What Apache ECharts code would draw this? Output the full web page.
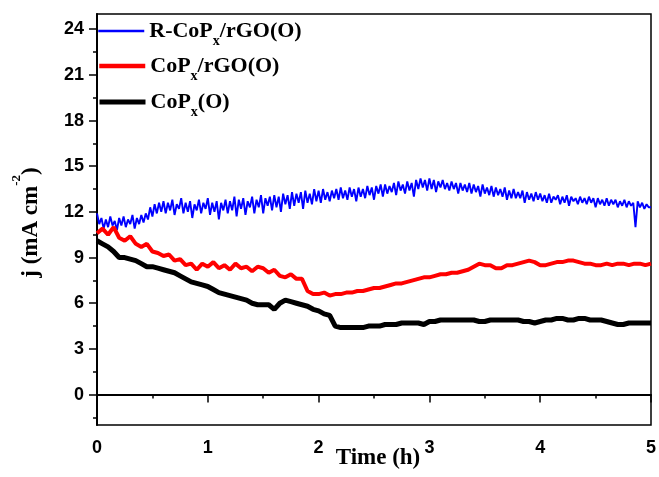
<!DOCTYPE html>
<html>
<head>
<meta charset="utf-8">
<script src="https://cdn.jsdelivr.net/npm/echarts@6/dist/echarts.min.js"></script>
<style>html,body{margin:0;padding:0;background:#fff;}#c{width:659px;height:477px;}</style>
</head>
<body>
<div id="c"></div>
<script>
// Series names
const seriesNames = ['R-CoPx/rGO(O)', 'CoPx/rGO(O)', 'CoPx(O)'];
// Sampling steps (h)
const blueStep = 0.02;
const redStep = 0.05;
const blackStep = 0.05;
// R-CoPx/rGO(O), j (mA cm-2), every 0.02 h from 0 to 5 h
const blueJ = [
  11.9, 11.2, 11.6, 10.9, 11.5, 11.0, 11.7, 11.1, 11.4, 10.8,
  11.6, 11.1, 11.7, 11.0, 11.5, 11.2, 11.8, 10.9, 11.6, 11.2,
  11.8, 11.3, 11.9, 11.5, 12.3, 11.7, 12.5, 11.9, 12.6, 12.0,
  12.7, 11.9, 12.6, 12.1, 12.8, 11.8, 12.5, 12.2, 12.9, 11.9,
  12.6, 12.0, 12.7, 11.6, 12.5, 12.1, 12.8, 11.9, 12.6, 12.2,
  12.9, 11.8, 12.6, 12.0, 12.7, 11.5, 12.6, 12.1, 12.8, 11.9,
  12.7, 12.1, 13.0, 11.7, 12.8, 12.2, 12.9, 11.8, 12.7, 12.3,
  13.0, 11.9, 12.8, 12.3, 13.1, 11.9, 12.9, 12.4, 13.0, 12.1,
  13.1, 12.3, 13.0, 12.0, 13.2, 12.5, 13.1, 12.2, 13.3, 12.4,
  13.2, 12.6, 13.3, 12.2, 13.4, 12.6, 13.2, 12.5, 13.5, 12.7,
  13.4, 12.6, 13.5, 12.8, 13.3, 12.7, 13.4, 12.9, 13.5, 12.8,
  13.6, 12.9, 13.4, 12.8, 13.6, 13.0, 13.5, 12.7, 13.6, 13.0,
  13.5, 12.9, 13.7, 13.1, 13.6, 12.8, 13.7, 13.2, 13.8, 13.0,
  13.8, 13.2, 13.7, 13.3, 13.9, 13.1, 14.0, 13.4, 13.8, 13.2,
  14.0, 13.4, 13.9, 13.0, 14.1, 13.5, 14.2, 13.6, 14.1, 13.4,
  14.2, 13.5, 14.1, 13.3, 14.0, 13.6, 14.1, 13.5, 13.9, 13.4,
  14.0, 13.5, 13.9, 13.2, 13.9, 13.4, 13.8, 13.3, 13.9, 13.2,
  13.8, 13.3, 13.7, 13.0, 13.8, 13.2, 13.6, 13.1, 13.7, 13.0,
  13.6, 13.1, 13.5, 13.0, 13.6, 12.8, 13.4, 12.9, 13.5, 12.9,
  13.3, 12.9, 13.4, 12.6, 13.3, 12.8, 13.2, 12.7, 13.3, 12.8,
  13.2, 12.7, 13.1, 12.6, 13.2, 12.6, 13.0, 12.8, 13.1, 12.5,
  13.0, 12.6, 13.1, 12.4, 13.0, 12.7, 12.9, 12.5, 13.0, 12.6,
  12.9, 12.5, 13.0, 12.6, 12.9, 12.3, 12.9, 12.5, 12.8, 12.4,
  12.9, 12.4, 12.8, 12.5, 12.8, 12.3, 12.7, 12.4, 12.8, 12.3,
  12.7, 12.4, 12.6, 11.0, 12.7, 12.3, 12.6, 12.2, 12.5, 12.3,
  12.3
];
// CoPx/rGO(O), every 0.05 h
const redJ = [
  10.6, 10.9, 10.5, 11.0, 10.3, 10.1, 10.4, 9.9, 9.7, 9.9,
  9.4, 9.3, 9.1, 9.2, 8.8, 8.9, 8.5, 8.6, 8.2, 8.6,
  8.4, 8.7, 8.3, 8.5, 8.2, 8.6, 8.3, 8.4, 8.1, 8.4,
  8.3, 8.0, 8.2, 7.8, 7.7, 7.9, 7.6, 7.6, 6.8, 6.6,
  6.6, 6.7, 6.5, 6.6, 6.6, 6.7, 6.7, 6.8, 6.8, 6.9,
  7.0, 7.0, 7.1, 7.2, 7.3, 7.3, 7.4, 7.5, 7.6, 7.7,
  7.7, 7.8, 7.9, 7.9, 8.0, 8.0, 8.1, 8.2, 8.4, 8.6,
  8.5, 8.5, 8.3, 8.3, 8.5, 8.5, 8.6, 8.7, 8.8, 8.7,
  8.5, 8.5, 8.6, 8.7, 8.7, 8.8, 8.8, 8.7, 8.6, 8.6,
  8.5, 8.5, 8.6, 8.5, 8.6, 8.6, 8.5, 8.6, 8.6, 8.5,
  8.6
];
// CoPx(O), every 0.05 h
const blackJ = [
  10.1, 9.9, 9.7, 9.4, 9.0, 9.0, 8.9, 8.8, 8.6, 8.4,
  8.4, 8.3, 8.2, 8.1, 8.0, 7.8, 7.6, 7.4, 7.3, 7.2,
  7.1, 6.9, 6.7, 6.6, 6.5, 6.4, 6.3, 6.2, 6.0, 5.9,
  5.9, 5.9, 5.6, 6.0, 6.2, 6.1, 6.0, 5.9, 5.8, 5.6,
  5.5, 5.3, 5.2, 4.5, 4.4, 4.4, 4.4, 4.4, 4.4, 4.5,
  4.5, 4.5, 4.6, 4.6, 4.6, 4.7, 4.7, 4.7, 4.7, 4.6,
  4.8, 4.8, 4.9, 4.9, 4.9, 4.9, 4.9, 4.9, 4.9, 4.8,
  4.8, 4.9, 4.9, 4.9, 4.9, 4.9, 4.9, 4.8, 4.8, 4.7,
  4.8, 4.9, 4.9, 5.0, 5.0, 4.9, 4.9, 5.0, 5.0, 4.9,
  4.9, 4.9, 4.8, 4.7, 4.6, 4.6, 4.7, 4.7, 4.7, 4.7,
  4.7
];
// Axis ticks
const yMajorTicks = [0, 3, 6, 9, 12, 15, 18, 21, 24];
const yMinorTicks = [-1.5, 1.5, 4.5, 7.5, 10.5, 13.5, 16.5, 19.5, 22.5];

const toPairs = (arr, step) => arr.map((v, i) => [Math.round(i * step * 1000) / 1000, v]);

const SERIF = '"Liberation Serif", "Times New Roman", serif';
const SANS = '"Liberation Sans", Arial, sans-serif';

const legendRich = {
  a: { fontFamily: SERIF, fontWeight: 'bold', fontSize: 22, lineHeight: 22, color: '#000', padding: [6, 0, 0, 0], verticalAlign: 'top' },
  s: { fontFamily: SERIF, fontWeight: 'bold', fontSize: 14, lineHeight: 14, color: '#000', padding: [20, 0, 0, 0], verticalAlign: 'top' }
};
const legendFmt = {
  'R-CoPx/rGO(O)': '{a|R-CoP}{s|x}{a|/rGO(O)}',
  'CoPx/rGO(O)': '{a|CoP}{s|x}{a|/rGO(O)}',
  'CoPx(O)': '{a|CoP}{s|x}{a|(O)}'
};
const legendTops = [11, 46, 82];
const legendLineWidths = [2.5, 4.5, 5];

const legends = seriesNames.map((n, i) => ({
  orient: 'vertical', left: 97, top: legendTops[i], padding: 0,
  itemWidth: 46, itemHeight: 50,
  data: [{ name: n, lineStyle: { width: legendLineWidths[i] } }],
  itemStyle: { opacity: 0, borderWidth: 0 },
  formatter: x => legendFmt[x],
  textStyle: { rich: legendRich, padding: [0, 0, 12, 0] }
}));

const chart = echarts.init(document.getElementById('c'), null, { renderer: 'canvas' });
chart.setOption({
  animation: false,
  backgroundColor: '#fff',
  grid: { left: 97, right: 8, top: 14, bottom: 52, outerBoundsMode: 'none', containLabel: false, show: true, borderColor: '#000', borderWidth: 1.5, backgroundColor: 'transparent' },
  legend: legends,
  xAxis: {
    type: 'value', min: 0, max: 5, interval: 1,
    name: 'Time (h)', nameLocation: 'middle', nameGap: 22, nameMoveOverlap: false,
    nameTextStyle: { fontFamily: SERIF, fontWeight: 'bold', fontSize: 23, color: '#000', padding: [0, 0, 0, 8] },
    axisLine: { lineStyle: { color: '#000', width: 2 } },
    axisTick: { inside: false, length: 8, lineStyle: { color: '#000', width: 1.5 } },
    minorTick: { show: true, splitNumber: 2, length: 4, lineStyle: { color: '#000', width: 1.5 } },
    axisLabel: { fontFamily: SANS, fontWeight: 'bold', fontSize: 18, color: '#000', margin: 14 },
    splitLine: { show: false }
  },
  yAxis: [
    {
      type: 'value', min: -2, max: 25,
      name: '{a|j (mA cm}{s|-2}{a|)}', nameLocation: 'middle', nameGap: 64, nameMoveOverlap: false,
      nameTextStyle: {
        padding: [0, 6, 0, 0],
        rich: {
          a: { fontFamily: SERIF, fontWeight: 'bold', fontSize: 23, lineHeight: 23, color: '#000', padding: [10, 0, 0, 0], verticalAlign: 'top' },
          s: { fontFamily: SERIF, fontWeight: 'bold', fontSize: 13, lineHeight: 13, color: '#000', verticalAlign: 'top' }
        }
      },
      axisLine: { show: true, lineStyle: { color: '#000', width: 2 } },
      axisTick: { show: true, inside: false, length: 8, customValues: yMajorTicks, lineStyle: { color: '#000', width: 1.5 } },
      axisLabel: { customValues: yMajorTicks, fontFamily: SANS, fontWeight: 'bold', fontSize: 18, color: '#000', margin: 13 },
      splitLine: { show: false }
    },
    {
      type: 'value', min: -2, max: 25, position: 'left',
      axisLine: { show: false },
      axisTick: { show: true, inside: false, length: 4, customValues: yMinorTicks, lineStyle: { color: '#000', width: 1.5 } },
      axisLabel: { show: false },
      splitLine: { show: false }
    }
  ],
  series: [
    { name: seriesNames[0], type: 'line', data: toPairs(blueJ, blueStep), symbol: 'none', lineStyle: { color: '#0000ff', width: 1.9 }, itemStyle: { color: '#0000ff' } },
    { name: seriesNames[1], type: 'line', data: toPairs(redJ, redStep), symbol: 'none', lineStyle: { color: '#ff0000', width: 4 }, itemStyle: { color: '#ff0000' } },
    { name: seriesNames[2], type: 'line', data: toPairs(blackJ, blackStep), symbol: 'none', lineStyle: { color: '#000000', width: 5 }, itemStyle: { color: '#000000' } }
  ]
});
</script>
</body>
</html>
